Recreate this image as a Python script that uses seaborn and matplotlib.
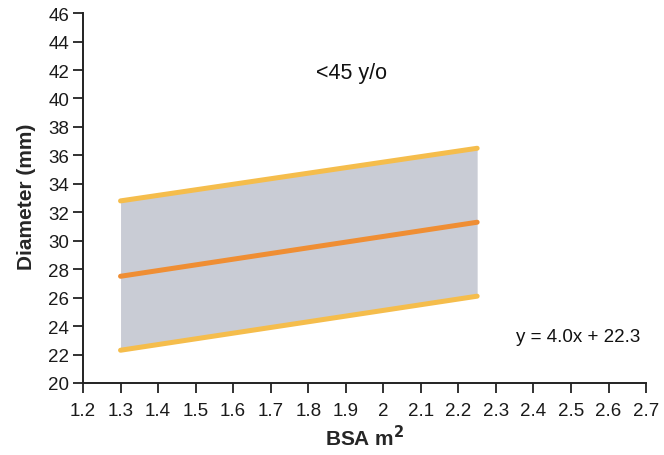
import matplotlib
matplotlib.use("Agg")
import matplotlib.pyplot as plt
import seaborn as sns
import pandas as pd

# Aortic diameter reference band vs body surface area (<45 y/o)
bsa = [1.3, 2.25]
mean_diam = [27.5, 31.3]
upper_diam = [32.8, 36.5]
lower_diam = [22.3, 26.1]
x_ticks = [1.2, 1.3, 1.4, 1.5, 1.6, 1.7, 1.8, 1.9, 2.0, 2.1, 2.2, 2.3, 2.4, 2.5, 2.6, 2.7]
x_tick_labels = ["1.2", "1.3", "1.4", "1.5", "1.6", "1.7", "1.8", "1.9", "2",
                 "2.1", "2.2", "2.3", "2.4", "2.5", "2.6", "2.7"]
y_ticks = list(range(20, 47, 2))

sns.set_style("ticks")
plt.rcParams["font.family"] = ["Liberation Sans", "DejaVu Sans"]

df = pd.DataFrame({"bsa": bsa, "mean": mean_diam, "upper": upper_diam, "lower": lower_diam})

fig = plt.figure(figsize=(6.64, 4.56), dpi=100)
ax = fig.add_axes([0.125, 0.158, 0.848, 0.811])

ax.fill_between(df["bsa"], df["lower"], df["upper"], color="#C9CCD5", linewidth=0, zorder=1)
line_kw = dict(linewidth=3.6, solid_capstyle="round", zorder=3)
sns.lineplot(data=df, x="bsa", y="upper", color="#F5BD4C", ax=ax, **line_kw)
sns.lineplot(data=df, x="bsa", y="lower", color="#F5BD4C", ax=ax, **line_kw)
sns.lineplot(data=df, x="bsa", y="mean", color="#EF8E34", ax=ax, **line_kw)

ax.set_xlim(1.2, 2.7)
ax.set_ylim(20, 46)
ax.set_xticks(x_ticks)
ax.set_xticklabels(x_tick_labels)
ax.set_yticks(y_ticks)
ax.tick_params(axis="both", direction="out", length=7, width=1.3, labelsize=13.5,
               color="#222222", labelcolor="#1a1a1a")
ax.tick_params(axis="x", pad=7)
ax.tick_params(axis="y", pad=3)
for side in ("top", "right"):
    ax.spines[side].set_visible(False)
for side in ("left", "bottom"):
    ax.spines[side].set_linewidth(1.4)
    ax.spines[side].set_color("#222222")

ax.set_xlabel("BSA m$^{\\mathbf{2}}$", fontsize=15, fontweight="bold", va="center")
ax.set_ylabel("Diameter (mm)", fontsize=15, fontweight="bold", va="center")
ax.xaxis.set_label_coords(0.5, -0.146)
ax.yaxis.set_label_coords(-0.101, 0.505)

ax.text(1.915, 41.85, "<45 y/o", fontsize=15.5, ha="center", va="center", color="#111111")
ax.text(2.52, 23.3, "y = 4.0x + 22.3", fontsize=13.5, ha="center", va="center", color="#111111")

fig.savefig("out.png", dpi=100)
